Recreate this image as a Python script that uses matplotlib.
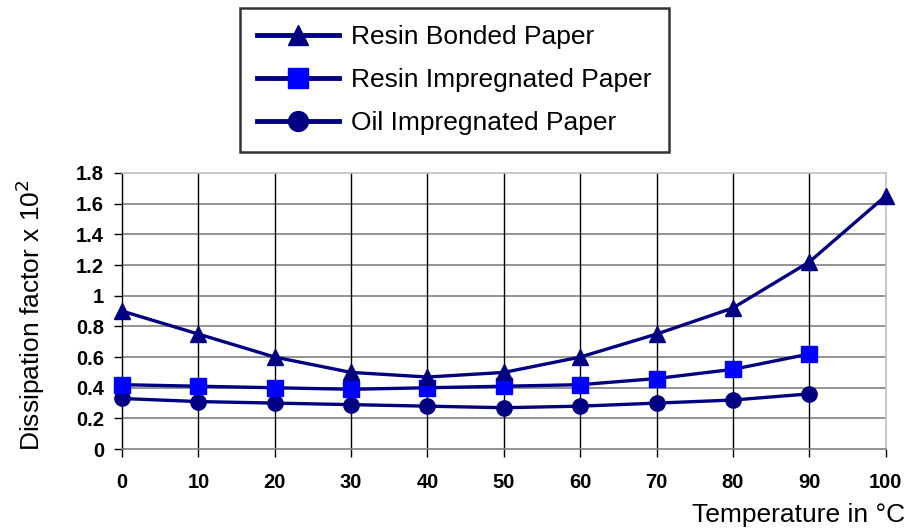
import matplotlib
matplotlib.use("Agg")
import matplotlib.pyplot as plt
import numpy as np

plt.rcParams['font.family'] = ['Liberation Sans', 'DejaVu Sans']

temps = [0, 10, 20, 30, 40, 50, 60, 70, 80, 90, 100]
resin_bonded = [0.90, 0.75, 0.60, 0.50, 0.47, 0.50, 0.60, 0.75, 0.92, 1.22, 1.65]
resin_impregnated = [0.42, 0.41, 0.40, 0.39, 0.40, 0.41, 0.42, 0.46, 0.52, 0.62]
oil_impregnated = [0.33, 0.31, 0.30, 0.29, 0.28, 0.27, 0.28, 0.30, 0.32, 0.36]
yticks = [0, 0.2, 0.4, 0.6, 0.8, 1.0, 1.2, 1.4, 1.6, 1.8]
ytick_labels = ['0', '0.2', '0.4', '0.6', '0.8', '1', '1.2', '1.4', '1.6', '1.8']

navy = '#000080'

fig = plt.figure(figsize=(9.14, 5.29), dpi=100)
ax = fig.add_axes([0.1335, 0.151, 0.8355, 0.522])

l1, = ax.plot(temps, resin_bonded, color=navy, lw=2.4, marker='^', ms=11.5,
              mfc=navy, mec=navy, label='Resin Bonded Paper', zorder=5, clip_on=False)
l2, = ax.plot(temps[:len(resin_impregnated)], resin_impregnated, color=navy, lw=2.4,
              marker='s', ms=11, mfc='#0000ff', mec='#0000ff',
              label='Resin Impregnated Paper', zorder=4, clip_on=False)
l3, = ax.plot(temps[:len(oil_impregnated)], oil_impregnated, color=navy, lw=2.4,
              marker='o', ms=11, mfc=navy, mec=navy,
              label='Oil Impregnated Paper', zorder=3, clip_on=False)

ax.set_xlim(0, 100)
ax.set_ylim(0, 1.8)
ax.set_xticks(temps)
ax.set_yticks(yticks)
ax.set_yticklabels(ytick_labels)

# grid: gray horizontal, black vertical
for y in yticks[1:-1]:
    ax.axhline(y, color='#808080', lw=1.2, zorder=1)
for x in temps[1:-1]:
    ax.axvline(x, color='black', lw=1.0, zorder=1)

for s in ['top', 'right']:
    ax.spines[s].set_color('#c0c0c0')
    ax.spines[s].set_linewidth(1.2)
ax.spines['bottom'].set_color('#808080')
ax.spines['bottom'].set_linewidth(1.2)
ax.spines['left'].set_color('black')
ax.spines['left'].set_linewidth(1.0)

ax.tick_params(axis='both', direction='out', length=6, width=1, color='black',
               labelsize=14.5)
ax.tick_params(axis='x', pad=11)
ax.tick_params(axis='y', pad=7)
for lab in ax.get_xticklabels() + ax.get_yticklabels():
    lab.set_fontweight('bold')

fig.text(0.033, 0.405, 'Dissipation factor x 10$^2$', rotation=90,
         ha='center', va='center', fontsize=19)
fig.text(0.99, 0.026, 'Temperature in \u00b0C', ha='right', va='center', fontsize=19)

leg = fig.legend(handles=[l1, l2, l3], loc='upper left',
                 bbox_to_anchor=(0.2626, 0.985), borderaxespad=0,
                 fontsize=19, frameon=True,
                 fancybox=False, edgecolor='black', handlelength=3.1,
                 markerscale=1.3, labelspacing=0.72, borderpad=0.65,
                 handletextpad=0.45)
leg.get_frame().set_linewidth(1.8)
for h in leg.get_lines():
    h.set_linewidth(3.5)

fig.savefig('out.png', dpi=100)
